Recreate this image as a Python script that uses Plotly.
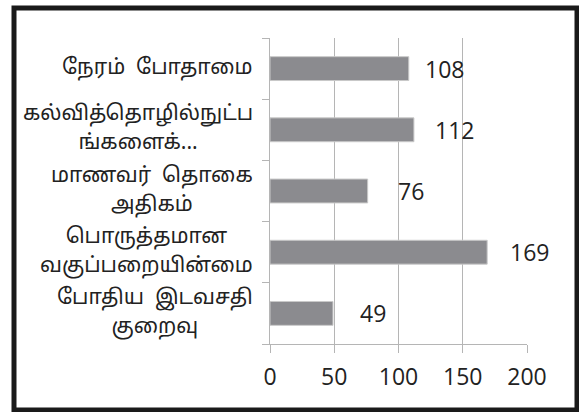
import plotly.graph_objects as go

categories = ["போதிய  இடவசதி<br>குறைவு",
              "பொருத்தமான<br>வகுப்பறையின்மை",
              "மாணவர்  தொகை<br>அதிகம்",
              "கல்வித்தொழில்நுட்ப<br>ங்களைக்...",
              "நேரம்  போதாமை"]
values = [49, 169, 76, 112, 108]
label_shift = [25, 21, 28, 19, 14]
x_ticks = [0, 50, 100, 150, 200]

fig = go.Figure()
fig.add_trace(go.Bar(
    x=values, y=categories, orientation="h",
    marker=dict(color="#8b8b8f", line=dict(color="#c9c9c9", width=1)),
    hoverinfo="skip",
))

annotations = []
for c, v, s in zip(categories, values, label_shift):
    annotations.append(dict(x=v, y=c, xref="x", yref="y", text=str(v),
                            showarrow=False, xanchor="left", yanchor="middle",
                            xshift=s, font=dict(family="Open Sans, sans-serif", size=23, color="#222")))
    styled = "<br>".join("<span style='font-size:21px'>%s</span>" % part for part in c.split("<br>"))
    annotations.append(dict(x=0, y=c, xref="paper", yref="y", text=styled,
                            showarrow=False, xanchor="right", yanchor="middle",
                            align="center", xshift=-15,
                            font=dict(family="Noto Sans Tamil, Noto Serif Tamil, Latha, serif",
                                      size=22, color="#222")))

fig.update_layout(
    width=579, height=412,
    margin=dict(l=270, r=52, t=38, b=68),
    paper_bgcolor="white", plot_bgcolor="white",
    showlegend=False,
    bargap=0.61,
    annotations=annotations,
    shapes=[dict(type="rect", xref="paper", yref="paper",
                 x0=(14 - 270) / 257, x1=(577 - 270) / 257,
                 y0=(344 - 410) / 306, y1=(344 - 8) / 306,
                 line=dict(color="#1a1a1a", width=5), fillcolor="rgba(0,0,0,0)", layer="above")],
    xaxis=dict(range=[0, 200], tickvals=x_ticks, ticktext=[str(t) for t in x_ticks],
               showgrid=True, gridcolor="#b5b5b5", gridwidth=1,
               showline=True, linecolor="#b5b5b5", linewidth=1,
               ticks="outside", ticklen=8, tickcolor="#b5b5b5",
               zeroline=False, ticklabelstandoff=4,
               tickfont=dict(family="Open Sans, sans-serif", size=23, color="#222")),
    yaxis=dict(showgrid=False, showline=True, linecolor="#b5b5b5", linewidth=1,
               ticks="outside", tickson="boundaries", ticklen=7, tickcolor="#b5b5b5",
               showticklabels=False, range=[-0.5, 4.5]),
)

fig.write_html("out.html", config={"displayModeBar": False},
               post_script="document.body.style.margin='0';")
